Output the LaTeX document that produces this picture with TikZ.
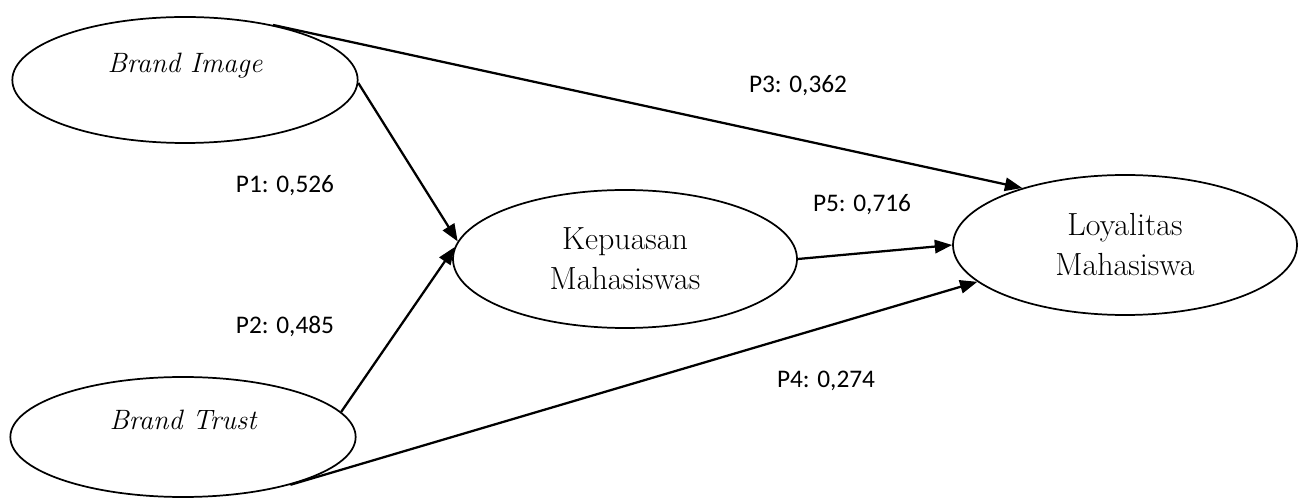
\documentclass[tikz,border=0pt]{standalone}
\usepackage{fontspec}
\newfontfamily\coeffamily{Carlito}
\usetikzlibrary{arrows.meta,shapes.geometric}
\newcommand{\VarFont}{\fontsize{24}{30}\selectfont}
\newcommand{\ItFont}{\fontsize{21}{26}\selectfont\itshape}
\newcommand{\CoefFont}{\coeffamily\fontsize{19}{22}\selectfont}

\begin{document}
\begin{tikzpicture}[
  x=0.75pt, y=-0.75pt,
  font=\VarFont,
  var/.style    = {draw, ellipse, line width=1.3pt, minimum width=259pt, inner sep=0pt,
                   align=center},
  raised/.style = {font=\ItFont, text height=16pt, text depth=27pt},
  coef/.style   = {font=\CoefFont, inner sep=0pt},
  rel/.style    = {-{Triangle[length=13pt,width=10pt]}, line width=1.7pt},
]
\useasboundingbox (0,0) rectangle (1298,498);

% ---------------------------------------------------------------- constructs
\node[var, raised, minimum height=94.5pt] (bi) at (185,80)  {Brand Image};
\node[var, raised, minimum height=90pt]   (bt) at (183,437) {Brand Trust};
\node[var, minimum width=258pt, minimum height=103.5pt] (kp) at (625,259) {Kepuasan\\Mahasiswas};
\node[var, minimum width=258pt, minimum height=105pt]   (ly) at (1125,245) {Loyalitas\\Mahasiswa};

% ---------------------------------------------------------------- paths
\draw[rel] (bi.32)  -- (ly.151);
\draw[rel] (bi.-1)  -- (kp.174);
\draw[rel] (bt.9)   -- (kp.176);
\draw[rel] (kp.east) -- (ly.west);
\draw[rel] (bt.-24) -- (ly.194);

% ---------------------------------------------------------------- coefficients
\node[coef] (p3) at (798,86)  {P3: 0,362};
\node[coef] (p1) at (285,186) {P1: 0,526};
\node[coef] (p2) at (285,326) {P2: 0,485};
\node[coef] (p5) at (862,205) {P5: 0,716};
\node[coef] (p4) at (826,381) {P4: 0,274};

\end{tikzpicture}
\end{document}
